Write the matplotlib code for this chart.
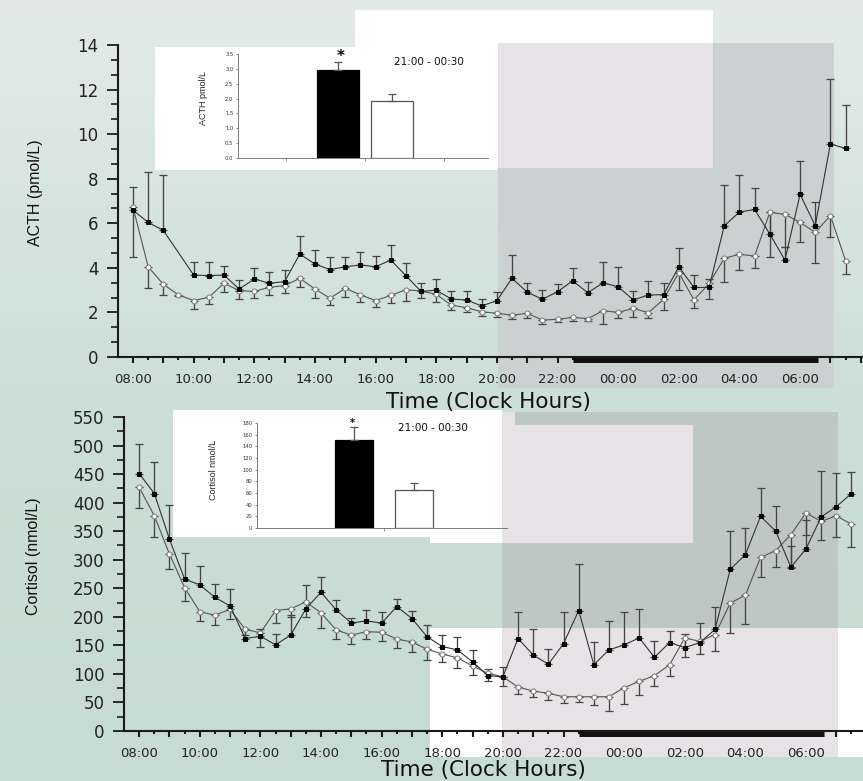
import matplotlib.pyplot as plt
import numpy as np
from matplotlib.patches import Rectangle
from matplotlib.ticker import FixedLocator, MultipleLocator
from matplotlib.transforms import offset_copy


# half-hour sampling, index 0 = 08:00, index 47 = 07:30 next morning
SLOT_COUNT = 48
TIME_LABELS = ["08:00", "10:00", "12:00", "14:00", "16:00", "18:00",
               "20:00", "22:00", "00:00", "02:00", "04:00", "06:00"]
SLEEP_START = 29.0   # 22:30
SLEEP_END = 45.2     # ~06:36

ACTH_BLACK = [6.59, 6.04, 5.68, None, 3.68, 3.65, 3.68, 3.05, 3.50, 3.31, 3.38, 4.62,
              4.17, 3.92, 4.05, 4.13, 4.05, 4.35, 3.65, 2.94, 3.00, 2.60, 2.56, 2.29,
              2.53, 3.53, 2.91, 2.59, 2.93, 3.42, 2.88, 3.33, 3.15, 2.56, 2.78, 2.80,
              4.05, 3.12, 3.12, 5.89, 6.50, 6.62, 5.52, 4.35, 7.30, 5.89, 9.56, 9.36]
ACTH_BLACK_ERR = [1.04, 2.26, 2.47, None, 0.57, 0.60, 0.42, 0.41, 0.50, 0.52, 0.52, 0.83,
                  0.63, 0.55, 0.42, 0.56, 0.50, 0.67, 0.55, 0.38, 0.48, 0.37, 0.41, 0.31,
                  0.37, 1.03, 0.39, 0.41, 0.33, 0.58, 0.47, 0.92, 0.87, 0.41, 0.64, 0.53,
                  0.82, 0.56, 0.36, 1.85, 1.66, 0.97, 0.97, 0.60, 1.49, 1.08, 2.90, 1.97]
ACTH_WHITE = [6.72, 4.05, 3.26, 2.79, 2.53, 2.68, 3.31, 2.98, 2.94, 3.13, 3.20, 3.53,
              3.05, 2.64, 3.08, 2.79, 2.53, 2.76, 3.02, 2.96, 2.81, 2.33, 2.21, 2.03,
              1.96, 1.88, 1.96, 1.66, 1.69, 1.78, 1.72, 2.08, 2.00, 2.18, 1.99, 2.59,
              3.78, 2.56, 3.30, 4.43, 4.61, 4.53, 6.49, 6.40, 6.04, 5.59, 6.34, 4.32]
ACTH_WHITE_ERR = [2.25, 0.97, 0.46, 0.05, 0.37, 0.30, 0.41, 0.37, 0.30, 0.33, 0.34, 0.40,
                  0.40, 0.30, 0.37, 0.33, 0.29, 0.35, 0.50, 0.30, 0.35, 0.23, 0.21, 0.20,
                  0.16, 0.18, 0.22, 0.18, 0.13, 0.18, 0.12, 0.61, 0.26, 0.37, 0.25, 0.48,
                  0.78, 0.38, 0.70, 1.08, 0.71, 0.52, 2.02, 1.45, 0.87, 1.39, 0.97, 0.60]

CORT_BLACK = [451, 416, 336, 266, 256, 234, 219, 162, 166, 151, 168, 214,
              243, 212, 189, 193, 189, 218, 197, 165, 148, 142, 121, 97,
              95, 162, 133, 117, 153, 211, 116, 142, 151, 163, 129, 155,
              146, 155, 178, 283, 309, 376, 350, 287, 319, 375, 393, 416]
CORT_BLACK_ERR = [51, 56, 59, 46, 33, 23, 30, 16, 12, 19, 35, 42,
                  26, 17, 9, 19, 20, 13, 14, 21, 20, 22, 21, 12,
                  17, 46, 45, 27, 55, 82, 40, 50, 58, 51, 29, 21,
                  24, 34, 39, 67, 46, 50, 44, 37, 51, 80, 59, 37]
CORT_WHITE = [427, 377, 310, 251, 209, 203, 213, 178, 172, 211, 214, 226,
              207, 177, 168, 174, 173, 161, 156, 143, 135, 128, 114, 101,
              95, 77, 70, 66, 60, 60, 60, 60, 76, 87, 97, 116,
              163, 157, 169, 224, 238, 304, 316, 344, 382, 367, 377, 362]
CORT_WHITE_ERR = [37, 38, 27, 23, 16, 17, 16, 10, 24, 21, 15, 27,
                  27, 16, 16, 13, 16, 16, 17, 18, 15, 18, 16, 14,
                  16, 12, 10, 12, 11, 10, 14, 25, 29, 24, 19, 19,
                  33, 22, 29, 53, 50, 35, 29, 58, 38, 33, 38, 40]

# 21:00 - 00:30 means (black, white)
INSET_ACTH = [2.96, 1.91]
INSET_ACTH_ERR = [0.26, 0.25]
INSET_CORT = [151, 66]
INSET_CORT_ERR = [23, 11]

W, H = 863, 781
BG_TOP = np.array([226, 235, 232]) / 255
BG_MID = np.array([203, 222, 215]) / 255
BG_LOW = np.array([198, 219, 211]) / 255
GRAY_TOP = "#cbd0d0"
GRAY_BOT = "#bdc8c5"
PINK = "#e7e2e6"


def fig_rect(x0, y0, x1, y1):
    return [x0 / W, 1 - y1 / H, (x1 - x0) / W, (y1 - y0) / H]


def draw_background(fig):
    bg = fig.add_axes([0, 0, 1, 1], zorder=0)
    rows = np.arange(H)
    t1 = np.clip(rows / 420, 0, 1)[:, None]
    t2 = np.clip((rows - 420) / 360, 0, 1)[:, None]
    colors = np.where(rows[:, None] < 420, BG_TOP * (1 - t1) + BG_MID * t1, BG_MID * (1 - t2) + BG_LOW * t2)
    bg.imshow(colors[:, None, :], extent=[0, W, H, 0], aspect="auto")
    boxes = [
        (355, 10, 713, 168, "white"),
        (498, 43, 834, 388, GRAY_TOP),
        (498, 43, 713, 168, PINK),
        (155, 47, 497, 170, "white"),
        (502, 412, 838, 628, GRAY_BOT),
        (430, 628, 863, 757, "white"),
        (502, 628, 838, 757, PINK),
        (430, 412, 502, 543, "white"),
        (502, 425, 693, 543, PINK),
        (502, 412, 515, 425, PINK),
        (173, 410, 502, 537, "white"),
    ]
    for x0, y0, x1, y1, c in boxes:
        bg.add_patch(Rectangle((x0, y0), x1 - x0, y1 - y0, facecolor=c, edgecolor="none"))
    bg.set_xlim(0, W)
    bg.set_ylim(H, 0)
    bg.axis("off")
    return bg


def plot_series(ax, values, errors, up, marker, ms, mfc, mec, line_color):
    x = np.arange(SLOT_COUNT)
    y = np.array([np.nan if v is None else v for v in values], dtype=float)
    e = np.array([np.nan if v is None else v for v in errors], dtype=float)
    ok = np.isfinite(y)
    zeros = np.zeros(ok.sum())
    yerr = [zeros, e[ok]] if up else [e[ok], zeros]
    ax.errorbar(x[ok], y[ok], yerr=yerr, fmt="none", ecolor="#444444",
                elinewidth=0.95, capsize=3, capthick=0.9, zorder=3)
    ax.plot(x[ok], y[ok], color=line_color, linewidth=0.8, marker=marker, markersize=ms,
            markerfacecolor=mfc, markeredgecolor=mec, markeredgewidth=0.7, zorder=4)


def style_main(ax, fig, xlim, ylim, ystep, yminor, ylabel, ylabel_xy, xlabel_xy):
    ax.set_facecolor("none")
    ax.set_xlim(*xlim)
    ax.set_ylim(*ylim)
    for side in ["top", "right"]:
        ax.spines[side].set_visible(False)
    for side in ["left", "bottom"]:
        ax.spines[side].set_linewidth(1.5)
        ax.spines[side].set_color("#1a1a1a")

    ax.xaxis.set_major_locator(FixedLocator(np.arange(0, SLOT_COUNT + 1, 2)))
    ax.xaxis.set_minor_locator(FixedLocator(np.arange(1, SLOT_COUNT + 1, 2)))
    labels = []
    for i in np.arange(0, SLOT_COUNT + 1, 2):
        labels.append(TIME_LABELS[i // 4] if i % 4 == 0 and i // 4 < len(TIME_LABELS) else "")
    ax.set_xticklabels(labels)
    ax.yaxis.set_major_locator(MultipleLocator(ystep))
    ax.yaxis.set_minor_locator(MultipleLocator(yminor))

    ax.tick_params(axis="x", which="major", direction="out", length=4.5, width=1.5,
                   pad=7, labelsize=9.5, labelcolor="#222222", color="#1a1a1a")
    ax.tick_params(axis="x", which="minor", direction="out", length=2.5, width=1.5, color="#1a1a1a")
    ax.tick_params(axis="y", which="major", direction="out", length=8, width=1.3,
                   pad=6, labelsize=12, labelcolor="#222222", color="#1a1a1a")
    ax.tick_params(axis="y", which="minor", direction="out", length=5, width=1.2, color="#1a1a1a")

    ax.set_ylabel(ylabel, fontsize=11.5, family="Liberation Sans", color="#111111")
    ax.yaxis.set_label_coords(*ylabel_xy)
    ax.yaxis.label.set_va("center")
    ax.set_xlabel("Time (Clock Hours)", fontsize=15.5, color="#111111")
    ax.xaxis.set_label_coords(*xlabel_xy)
    ax.xaxis.label.set_va("center")

    # sleep period bar on the time axis
    shifted = offset_copy(ax.transData, fig=fig, y=-2.5, units="dots")
    ax.plot([SLEEP_START, SLEEP_END], [ylim[0], ylim[0]], color="#111111", linewidth=3.6,
            solid_capstyle="butt", transform=shifted, clip_on=False, zorder=6)


def draw_inset(fig, rect, values, errors, ymax, ystep, ticks, bar_offset, bar_width):
    ax = fig.add_axes(rect, zorder=3)
    ax.set_facecolor("none")
    centers = [1 - bar_offset, 1 + bar_offset]
    ax.bar(centers, values, width=bar_width, color=["black", "white"],
           edgecolor=["black", "#555555"], linewidth=0.9, zorder=2)
    ax.errorbar(centers, values, yerr=[[0, 0], errors], fmt="none", ecolor="#555555",
                elinewidth=0.9, capsize=3, capthick=0.9, zorder=3)
    ax.set_ylim(0, ymax)
    ax.set_xlim(1 - 1.6, 1 + 1.55)
    ax.set_xticks(ticks)
    ax.set_xticklabels([])
    ax.yaxis.set_major_locator(MultipleLocator(ystep))
    for side in ["top", "right"]:
        ax.spines[side].set_visible(False)
    for side in ["left", "bottom"]:
        ax.spines[side].set_linewidth(0.6)
        ax.spines[side].set_color("#666666")
    ax.tick_params(axis="both", length=1.8, width=0.5, color="#666666", pad=1.5,
                   labelsize=3.8, labelcolor="#333333")
    if ystep < 1:
        ax.set_yticklabels([f"{v:.1f}" for v in ax.get_yticks()])
    return ax


def main():
    plt.rcParams["font.family"] = ["DejaVu Sans"]
    fig = plt.figure(figsize=(W / 100, H / 100), dpi=100)
    fig.patch.set_facecolor("white")
    bg = draw_background(fig)

    # upper panel: ACTH
    ax1 = fig.add_axes(fig_rect(118, 45, 863, 357), zorder=2)
    plot_series(ax1, ACTH_WHITE, ACTH_WHITE_ERR, False, "o", 3.6, "white", "#7a7a7a", "#555555")
    plot_series(ax1, ACTH_BLACK, ACTH_BLACK_ERR, True, "s", 3.3, "black", "black", "#333333")
    style_main(ax1, fig, (-0.99, 48.15), (0, 14), 2, 2 / 3, "ACTH (pmol/L)",
               (-0.111, 0.526), (0.497, -0.144))

    # lower panel: cortisol
    ax2 = fig.add_axes(fig_rect(124, 417, 863, 731), zorder=2)
    plot_series(ax2, CORT_WHITE, CORT_WHITE_ERR, False, "o", 3.6, "white", "#7a7a7a", "#555555")
    plot_series(ax2, CORT_BLACK, CORT_BLACK_ERR, True, "s", 3.3, "black", "black", "#333333")
    style_main(ax2, fig, (-1.0, 47.76), (0, 550), 50, 25, "Cortisol (nmol/L)",
               (-0.123, 0.557), (0.486, -0.124))

    # insets with the 21:00 - 00:30 means
    draw_inset(fig, fig_rect(238, 54, 488, 158), INSET_ACTH, INSET_ACTH_ERR, 3.5, 0.5,
               [0, 1, 2], 0.335, 0.53)
    draw_inset(fig, fig_rect(257, 423, 507, 528), INSET_CORT, INSET_CORT_ERR, 180, 20,
               [1], 0.38, 0.48)

    bg.text(203, 98, "ACTH pmol/L", rotation=90, ha="center", va="center",
            fontsize=6.5, family="Liberation Sans", color="#222222")
    bg.text(213, 470, "Cortisol nmol/L", rotation=90, ha="center", va="center",
            fontsize=6.5, family="Liberation Sans", color="#222222")
    bg.text(341, 56, "*", ha="center", va="center", fontsize=11, fontweight="bold")
    bg.text(352, 423, "*", ha="center", va="center", fontsize=7, fontweight="bold")
    bg.text(429, 62, "21:00 - 00:30", ha="center", va="center", fontsize=7.5, color="#111111")
    bg.text(433, 428, "21:00 - 00:30", ha="center", va="center", fontsize=7.5, color="#111111")

    fig.savefig("out.png", dpi=100, facecolor="white")
    plt.close(fig)


if __name__ == "__main__":
    main()
